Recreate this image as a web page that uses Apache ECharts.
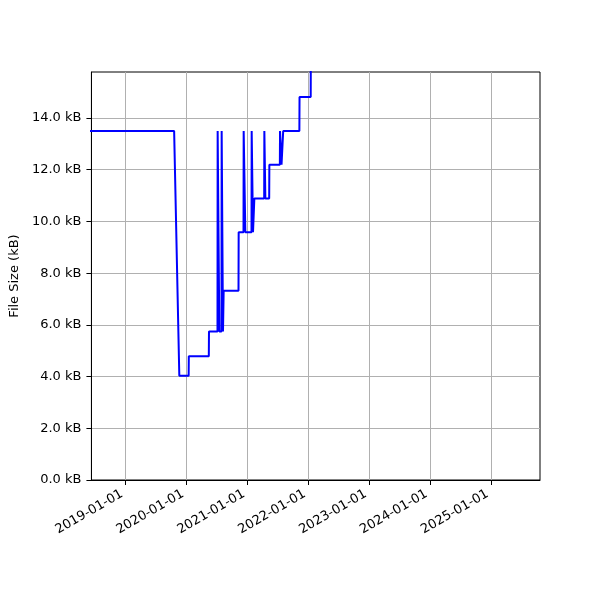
<!DOCTYPE html>
<html>
<head>
    <meta charset="utf-8">
    <title>File size history</title>
    <script src="https://cdn.jsdelivr.net/npm/echarts@6/dist/echarts.min.js"></script>
</head>
<body style="margin:0;background:#fff;">
<div id="main" style="width:600px;height:600px;"></div>
<script type="text/javascript">
// commit dates and file size (kB) at each commit
var dates = [
    '2018-05-01', '2019-10-19', '2019-11-19', '2020-01-14', '2020-01-15',
    '2020-05-14', '2020-05-15', '2020-07-05', '2020-07-06', '2020-07-15',
    '2020-07-16', '2020-07-29', '2020-07-30', '2020-08-06', '2020-08-07',
    '2020-08-11', '2020-11-08', '2020-11-09', '2020-12-08', '2020-12-09',
    '2020-12-18', '2020-12-19', '2021-01-25', '2021-01-26', '2021-02-02',
    '2021-02-03', '2021-02-10', '2021-02-11', '2021-04-11', '2021-04-12',
    '2021-04-17', '2021-04-18', '2021-05-11', '2021-05-12', '2021-07-14',
    '2021-07-15', '2021-07-23', '2021-07-24', '2021-08-02', '2021-08-03',
    '2021-11-08', '2021-11-09', '2022-01-15', '2022-01-16'
];
var sizes = [
    13.50, 13.50, 4.03, 4.03, 4.79,
    4.79, 5.74, 5.74, 13.50, 13.50,
    5.74, 5.74, 13.50, 13.50, 5.74,
    7.32, 7.32, 9.58, 9.58, 13.50,
    13.50, 9.58, 9.58, 13.50, 13.50,
    9.58, 9.58, 10.89, 10.89, 13.50,
    13.50, 10.89, 10.89, 12.19, 12.19,
    13.50, 13.50, 12.19, 12.19, 13.50,
    13.50, 14.81, 14.81, 17.20
];
var yearTicks = ['2019-01-01', '2020-01-01', '2021-01-01', '2022-01-01',
                 '2023-01-01', '2024-01-01', '2025-01-01'];
var sizeTicks = [0, 2, 4, 6, 8, 10, 12, 14];

var xMin = Date.parse('2018-06-10');
var xMax = Date.parse('2025-10-21');
var yMax = 15.78;

var points = dates.map(function (d, i) { return [Date.parse(d), sizes[i]]; });
var tickTimes = yearTicks.map(function (d) { return Date.parse(d); });

function pad(n) { return n < 10 ? '0' + n : '' + n; }
function fmtDate(v) {
    var d = new Date(v);
    return d.getUTCFullYear() + '-' + pad(d.getUTCMonth() + 1) + '-' + pad(d.getUTCDate());
}

var font = 'DejaVu Sans';
var myChart = echarts.init(document.getElementById('main'), null, {renderer: 'canvas'});
var option = {
    animation: false,
    backgroundColor: '#ffffff',
    grid: {
        left: 90, right: 60, top: 72, bottom: 120,
        show: true, borderColor: '#000000', borderWidth: 1, backgroundColor: 'transparent'
    },
    xAxis: {
        type: 'value',
        min: xMin,
        max: xMax,
        axisLine: {show: true, onZero: false, lineStyle: {color: '#000', width: 1}},
        axisTick: {show: true, inside: false, length: 5, customValues: tickTimes,
                   lineStyle: {color: '#000', width: 1}},
        axisLabel: {
            customValues: tickTimes,
            rotate: 30,
            margin: 11,
            color: '#000',
            fontFamily: font,
            fontSize: 13,
            // trailing space nudges the rotated text left of the tick like matplotlib
            formatter: function (v) { return fmtDate(v) + ' '; }
        },
        splitLine: {show: true, lineStyle: {color: '#b0b0b0', width: 1}}
    },
    yAxis: {
        type: 'value',
        min: 0,
        max: yMax,
        name: 'File Size (kB)',
        nameLocation: 'middle',
        nameGap: 63,
        nameTextStyle: {color: '#000', fontFamily: font, fontSize: 13},
        axisLine: {show: true, lineStyle: {color: '#000', width: 1}},
        axisTick: {show: true, inside: false, length: 5, customValues: sizeTicks,
                   lineStyle: {color: '#000', width: 1}},
        axisLabel: {
            customValues: sizeTicks,
            margin: 10,
            color: '#000',
            fontFamily: font,
            fontSize: 13,
            formatter: function (v) { return v.toFixed(1) + ' kB'; }
        },
        splitLine: {show: true, lineStyle: {color: '#b0b0b0', width: 1}}
    },
    series: [{
        type: 'line',
        data: points,
        showSymbol: false,
        symbol: 'none',
        clip: true,
        lineStyle: {color: '#0000ff', width: 2},
        itemStyle: {color: '#0000ff'}
    }]
};
myChart.setOption(option);
</script>
</body>
</html>
